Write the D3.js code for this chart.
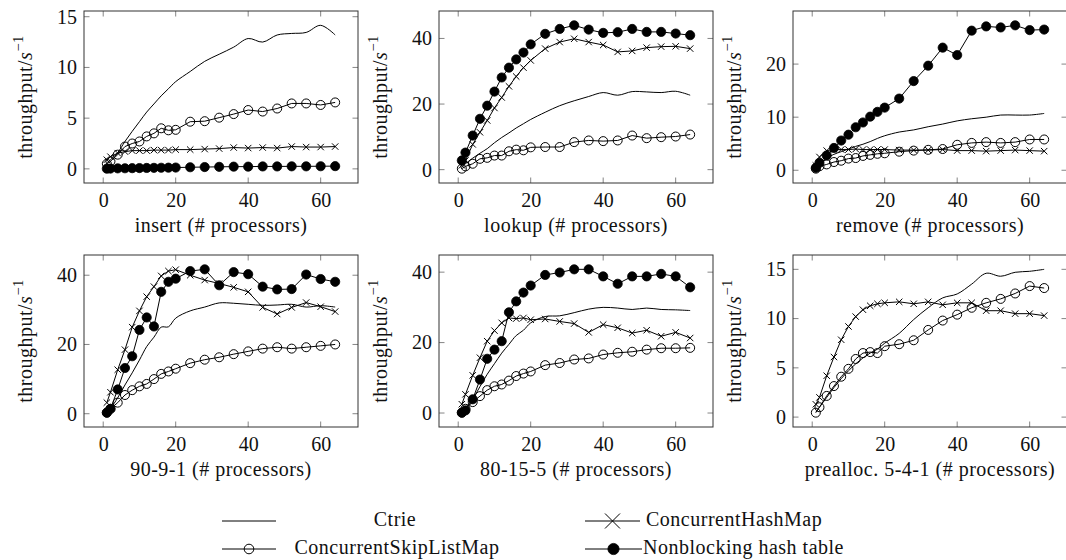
<!DOCTYPE html>
<html><head><meta charset="utf-8">
<script src="https://cdn.jsdelivr.net/npm/d3@7"></script>
<style>
body{margin:0;background:#fff}
text{font-family:"Liberation Serif","Times New Roman",serif;fill:#111}
.lbl{letter-spacing:0.5px}
</style>
</head><body><svg id="c" width="1066" height="560"></svg>
<script>
// ---------- data ----------
const processors = [1,2,4,6,8,10,12,14,16,18,20,24,28,32,36,40,44,48,52,56,60,64];
const seriesNames = ["Ctrie","ConcurrentHashMap","ConcurrentSkipListMap","Nonblocking hash table"];
const panelTitles = ["insert","lookup","remove","90-9-1","80-15-5","prealloc. 5-4-1"];
const xTicks = [0,20,40,60];
const yTicksInsert = [0,5,10,15];
const yTicksLookup = [0,20,40];
const yTicksRemove = [0,10,20];
const yTicks9091 = [0,20,40];
const yTicks80155 = [0,20,40];
const yTicksPrealloc = [0,5,10,15];

const insertCtrie = [0.6,0.9,1.6,2.7,3.7,4.65,5.6,6.4,7.2,7.9,8.6,9.6,10.6,11.3,12.0,12.85,12.5,13.2,13.35,13.45,14.15,13.2];
const insertCHM   = [0.9,1.2,1.55,1.7,1.8,1.8,1.8,1.85,1.85,1.85,1.9,1.9,1.95,2.0,2.1,2.05,2.1,2.05,2.2,2.15,2.15,2.2];
const insertSkip  = [0.5,0.75,1.4,2.2,2.5,2.7,3.2,3.5,4.0,3.8,3.85,4.65,4.7,5.05,5.4,5.8,5.65,5.95,6.45,6.45,6.3,6.55];
const insertNBHT  = [0.02,0.03,0.05,0.06,0.07,0.08,0.09,0.1,0.11,0.12,0.13,0.16,0.18,0.2,0.22,0.22,0.24,0.24,0.25,0.25,0.26,0.27];

const lookupCtrie = [0.8,1.8,3.5,5.0,6.4,8.2,9.8,11.2,12.7,14.0,15.3,17.5,19.5,21.0,22.3,23.5,22.7,23.8,23.7,23.5,23.9,22.7];
const lookupCHM   = [1.3,2.8,7.7,11.4,15.0,18.8,22.0,25.4,28.4,31.1,33.3,36.9,38.9,39.9,38.9,38.0,35.9,36.2,37.2,37.5,37.6,36.9];
const lookupSkip  = [0.3,1.0,1.8,3.3,3.6,4.3,4.3,5.6,6.1,5.9,6.8,6.9,6.9,8.4,8.9,8.7,8.9,10.4,9.6,9.9,10.1,10.7];
const lookupNBHT  = [2.8,5.2,10.4,15.5,19.5,23.8,28.1,31.1,33.6,35.7,38.2,41.4,42.9,44.0,42.7,41.7,41.9,42.9,42.0,42.0,41.5,41.0];

const removeCtrie = [0.5,1.2,2.3,3.0,3.5,4.0,4.5,4.9,5.4,6.0,6.5,7.2,7.6,8.2,8.7,9.3,9.7,10.0,10.4,10.4,10.4,10.7];
const removeCHM   = [0.9,2.5,3.7,3.9,3.9,3.9,4.0,3.9,3.9,3.9,3.9,3.8,3.8,3.8,3.9,3.7,3.7,3.6,3.7,3.8,3.7,3.6];
const removeSkip  = [0.3,0.75,1.1,1.55,1.8,2.2,2.3,2.7,2.9,3.1,3.2,3.5,3.7,3.85,4.0,4.8,5.15,5.3,5.15,5.3,5.8,5.8];
const removeNBHT  = [0.45,1.4,2.8,4.2,5.6,6.7,8.1,9.0,10.1,11.0,11.8,13.5,16.8,19.7,23.1,21.7,26.3,27.1,26.9,27.3,26.4,26.5];

const mix9091Ctrie = [0.5,1.5,4.6,8.3,11.8,15.5,19.4,22.1,25.0,25.1,27.6,29.7,30.8,32.0,31.9,31.6,31.3,31.4,31.6,30.8,31.2,30.8];
const mix9091CHM   = [3.2,6.2,12.7,18.5,25.0,29.7,33.8,36.7,39.8,41.2,41.6,40.0,38.6,37.6,36.5,35.2,30.7,28.8,30.7,32.1,30.9,29.5];
const mix9091Skip  = [0.3,1.4,3.2,5.4,6.8,7.9,8.6,10.0,11.5,12.2,13.0,14.6,15.6,16.3,17.2,18.0,18.8,19.2,18.8,19.2,19.6,20.0];
const mix9091NBHT  = [0.3,1.4,7.0,13.2,16.6,24.2,27.8,25.2,35.2,38.1,39.0,41.2,41.7,37.1,40.9,40.3,36.7,35.9,36.0,40.2,38.9,38.1];

const mix80155Ctrie = [0.5,1.5,4.0,7.5,11.0,14.0,17.0,19.5,22.0,23.5,25.6,27.4,27.6,28.5,29.5,30.0,29.8,29.4,29.8,29.4,29.3,29.1];
const mix80155CHM   = [2.5,5.3,10.7,15.7,20.4,23.4,25.6,27.0,26.8,27.0,26.5,26.7,26.0,25.4,22.9,25.1,24.2,22.7,23.5,21.8,22.9,21.3];
const mix80155Skip  = [0.1,1.2,3.1,4.8,6.5,7.6,8.1,9.2,10.5,11.2,11.8,13.6,14.2,15.2,15.5,16.6,17.1,17.4,18.0,18.4,18.4,18.5];
const mix80155NBHT  = [0.1,0.75,3.9,9.5,15.4,18.0,20.4,28.6,31.7,34.2,36.2,39.2,39.9,40.8,40.8,38.8,36.7,38.8,38.8,39.5,38.8,35.7];

const preallocCtrie = [0.5,1.0,2.0,3.0,3.9,4.7,5.4,6.0,6.5,6.9,7.5,8.5,9.9,11.1,12.1,12.5,13.5,14.6,14.3,14.7,14.8,15.0];
const preallocCHM   = [1.3,2.0,4.2,6.1,7.85,9.2,10.2,10.9,11.3,11.5,11.6,11.7,11.5,11.7,11.4,11.6,11.6,10.8,10.8,10.5,10.5,10.3];
const preallocSkip  = [0.45,1.0,2.15,3.15,4.1,4.9,5.9,6.5,6.6,6.5,7.2,7.4,7.8,8.85,9.8,10.4,11.1,11.6,12.0,12.55,13.3,13.1];

// ---------- layout ----------
const panels = [
  {title: panelTitles[0], ticks: yTicksInsert, series: [insertCtrie, insertCHM, insertSkip, insertNBHT]},
  {title: panelTitles[1], ticks: yTicksLookup, series: [lookupCtrie, lookupCHM, lookupSkip, lookupNBHT]},
  {title: panelTitles[2], ticks: yTicksRemove, series: [removeCtrie, removeCHM, removeSkip, removeNBHT]},
  {title: panelTitles[3], ticks: yTicks9091, series: [mix9091Ctrie, mix9091CHM, mix9091Skip, mix9091NBHT]},
  {title: panelTitles[4], ticks: yTicks80155, series: [mix80155Ctrie, mix80155CHM, mix80155Skip, mix80155NBHT]},
  {title: panelTitles[5], ticks: yTicksPrealloc, series: [preallocCtrie, preallocCHM, preallocSkip, null]}
];
const lefts = [84, 439, 793];
const tops = [11, 255];
const PW = 274, PH = 172;
const FS = 20;
const TL = 5.5;

const svg = d3.select("#c");

function enlarge(lo, hi){ const d = (hi - lo) * 0.1; return [lo - d, hi + d]; }

function drawMarker(g, type, x, y, big){
  if (type === "x"){
    const h = big ? 7.5 : 3.2;
    g.append("path").attr("d", `M${x-h},${y-h}L${x+h},${y+h}M${x-h},${y+h}L${x+h},${y-h}`)
      .attr("stroke","#000").attr("stroke-width",1).attr("fill","none");
  } else if (type === "o"){
    g.append("circle").attr("cx",x).attr("cy",y).attr("r", big ? 4.8 : 4.5)
      .attr("fill","none").attr("stroke","#000").attr("stroke-width",1);
  } else if (type === "*"){
    g.append("circle").attr("cx",x).attr("cy",y).attr("r", big ? 5.6 : 4.6)
      .attr("fill","#000").attr("stroke","#000").attr("stroke-width",0.8);
  }
}
const markers = [null, "x", "o", "*"];

panels.forEach((p, i) => {
  const L = lefts[i % 3], T = tops[Math.floor(i / 3)];
  const g = svg.append("g");
  const allVals = p.series.filter(s => s).flat();
  const x = d3.scaleLinear().domain(enlarge(d3.min(processors), d3.max(processors))).range([L, L + PW]);
  const y = d3.scaleLinear().domain(enlarge(d3.min(allVals), d3.max(allVals))).range([T + PH, T]);

  // tick marks (inside, mirrored)
  const tg = g.append("g").attr("stroke","#666").attr("stroke-width",0.8);
  xTicks.forEach(t => {
    tg.append("line").attr("x1",x(t)).attr("x2",x(t)).attr("y1",T+PH).attr("y2",T+PH-TL);
    tg.append("line").attr("x1",x(t)).attr("x2",x(t)).attr("y1",T).attr("y2",T+TL);
  });
  p.ticks.forEach(t => {
    tg.append("line").attr("x1",L).attr("x2",L+TL).attr("y1",y(t)).attr("y2",y(t));
    tg.append("line").attr("x1",L+PW).attr("x2",L+PW-TL).attr("y1",y(t)).attr("y2",y(t));
  });

  // tick labels via d3 axes
  const xa = g.append("g").attr("transform",`translate(0,${T+PH})`)
    .call(d3.axisBottom(x).tickValues(xTicks).tickSize(0).tickPadding(10));
  xa.select(".domain").remove();
  xa.selectAll("text").attr("font-size",FS).attr("font-family",'"Liberation Serif",serif').attr("fill","#111");
  const ya = g.append("g").attr("transform",`translate(${L},0)`)
    .call(d3.axisLeft(y).tickValues(p.ticks).tickSize(0).tickPadding(7));
  ya.select(".domain").remove();
  ya.selectAll("text").attr("font-size",FS).attr("font-family",'"Liberation Serif",serif').attr("fill","#111");

  // series
  p.series.forEach((s, k) => {
    if (!s) return;
    const pts = processors.map((v, j) => [x(v), y(s[j])]);
    const line = d3.line().curve(k === 0 ? d3.curveCatmullRom.alpha(0.5) : d3.curveLinear);
    g.append("path").attr("d", line(pts)).attr("fill","none").attr("stroke","#000").attr("stroke-width",1);
    if (markers[k]) pts.forEach(q => drawMarker(g, markers[k], q[0], q[1], false));
  });

  // frame
  g.append("rect").attr("x",L).attr("y",T).attr("width",PW).attr("height",PH)
    .attr("fill","none").attr("stroke","#333").attr("stroke-width",1);

  // x label
  g.append("text").attr("class","lbl").attr("x", L + PW/2).attr("y", T + PH + 44).attr("text-anchor","middle")
    .attr("dominant-baseline","middle").attr("font-size",FS).text(p.title + " (# processors)");
  // y label
  const yl = g.append("text").attr("class","lbl").attr("transform",`translate(${L-57},${T+PH/2}) rotate(-90)`)
    .attr("text-anchor","middle").attr("dominant-baseline","middle").attr("font-size",FS);
  yl.append("tspan").text("throughput/");
  yl.append("tspan").attr("font-style","italic").text("s");
  yl.append("tspan").attr("font-size",FS*0.72).attr("dy",-7).text("−1");
});

// ---------- legend ----------
const legendRows = [521, 549];
const legendItems = [
  {k:0, lx:222, rx:276, y:legendRows[0], tx:395, anchor:"middle"},
  {k:1, lx:585, rx:640, y:legendRows[0], tx:646, anchor:"start"},
  {k:2, lx:222, rx:276, y:legendRows[1], tx:397, anchor:"middle"},
  {k:3, lx:585, rx:642, y:legendRows[1], tx:643, anchor:"start"}
];
const lg = svg.append("g");
legendItems.forEach(it => {
  lg.append("line").attr("x1",it.lx).attr("x2",it.rx).attr("y1",it.y).attr("y2",it.y)
    .attr("stroke","#000").attr("stroke-width",1);
  if (markers[it.k]) drawMarker(lg, markers[it.k], (it.lx+it.rx)/2, it.y, true);
  lg.append("text").attr("class","lbl").attr("x",it.tx).attr("y",it.y).attr("text-anchor",it.anchor)
    .attr("dominant-baseline","middle").attr("font-size",FS).text(seriesNames[it.k]);
});
</script>
</body></html>
